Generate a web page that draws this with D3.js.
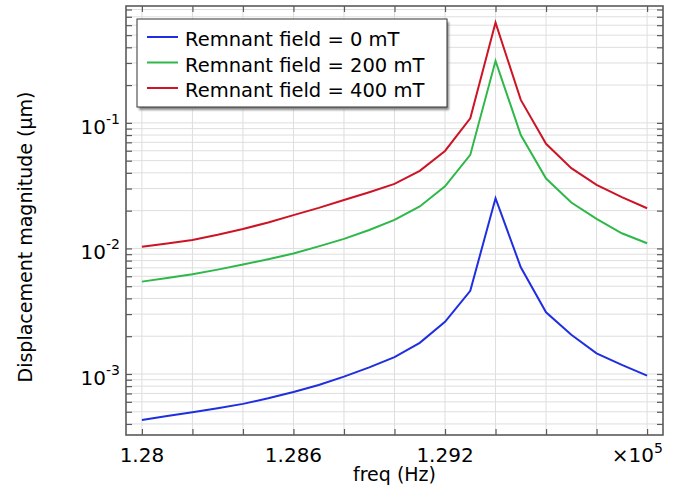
<!DOCTYPE html>
<html>
<head>
<meta charset="utf-8">
<script src="https://cdn.jsdelivr.net/npm/d3@7"></script>
<style>
  body { margin: 0; background: #fff; }
  svg { display: block; font-family: "DejaVu Sans", sans-serif; }
</style>
</head>
<body>
<svg id="chart" width="692" height="491"></svg>
<script>
// frequencies (Hz)
const freqs = [128000, 128100, 128200, 128300, 128400, 128500, 128600, 128700, 128800, 128900,
    129000, 129100, 129200, 129300, 129400, 129500, 129600, 129700, 129800, 129900, 130000];

// displacement magnitude (um)
const field0 = [4.30e-4, 4.62e-4, 4.95e-4, 5.33e-4, 5.78e-4, 6.40e-4, 7.19e-4, 8.17e-4, 9.53e-4, 1.13e-3,
    1.36e-3, 1.77e-3, 2.60e-3, 4.60e-3, 2.51e-2, 7.08e-3, 3.10e-3, 2.05e-3, 1.46e-3, 1.18e-3, 9.7e-4];
const field200 = [5.44e-3, 5.81e-3, 6.22e-3, 6.78e-3, 7.45e-3, 8.20e-3, 9.12e-3, 1.038e-2, 1.191e-2, 1.403e-2,
    1.686e-2, 2.16e-2, 3.12e-2, 5.56e-2, 0.312, 8.01e-2, 3.60e-2, 2.32e-2, 1.717e-2, 1.32e-2, 1.10e-2];
const field400 = [1.033e-2, 1.096e-2, 1.169e-2, 1.285e-2, 1.429e-2, 1.611e-2, 1.841e-2, 2.104e-2, 2.432e-2, 2.805e-2,
    3.266e-2, 4.15e-2, 5.98e-2, 0.1089, 0.629, 0.1525, 0.0681, 0.0436, 0.0321, 0.0256, 0.0209];

const seriesNames = ["Remnant field = 0 mT", "Remnant field = 200 mT", "Remnant field = 400 mT"];
const seriesColors = ["#1f2fe0", "#2fb84a", "#cc1426"];

const xTicks = [128000, 128200, 128400, 128600, 128800, 129000, 129200, 129400, 129600, 129800, 130000];
const xTickLabels = ["1.28", "", "", "1.286", "", "", "1.292", "", "", "", ""];
const yMajor = [1e-3, 1e-2, 1e-1];
const yMajorExp = ["-3", "-2", "-1"];

const svg = d3.select("#chart");
const pLeft = 126, pRight = 663, pTop = 6, pBottom = 435;

const x = d3.scaleLinear().domain([127937, 130063]).range([pLeft, pRight]);
const y = d3.scaleLog().domain([Math.pow(10, -3.486), Math.pow(10, -0.069)]).range([pBottom, pTop]);
const yTicks = y.ticks();

const gridColor = "#dedede";
const axisColor = "#5a5a5a";

// grid
svg.append("g").selectAll("line")
    .data(xTicks)
    .join("line")
    .attr("x1", d => x(d)).attr("x2", d => x(d))
    .attr("y1", pTop).attr("y2", pBottom)
    .attr("stroke", gridColor).attr("stroke-width", 1);
svg.append("g").selectAll("line")
    .data(yTicks)
    .join("line")
    .attr("x1", pLeft).attr("x2", pRight)
    .attr("y1", d => y(d)).attr("y2", d => y(d))
    .attr("stroke", gridColor).attr("stroke-width", 1);

// axes, ticks pointing inside
function styleAxis(g) {
    g.select(".domain").remove();
    g.selectAll(".tick line").attr("stroke", axisColor).attr("stroke-width", 1.2);
    g.selectAll(".tick text").remove();
}
svg.append("g").attr("transform", `translate(0,${pBottom})`)
    .call(d3.axisBottom(x).tickValues(xTicks).tickSize(-6)).call(styleAxis);
svg.append("g").attr("transform", `translate(0,${pTop})`)
    .call(d3.axisTop(x).tickValues(xTicks).tickSize(-6)).call(styleAxis);
svg.append("g").attr("transform", `translate(${pLeft},0)`)
    .call(d3.axisLeft(y).tickValues(yTicks).tickSize(-6)).call(styleAxis);
svg.append("g").attr("transform", `translate(${pRight},0)`)
    .call(d3.axisRight(y).tickValues(yTicks).tickSize(-6)).call(styleAxis);

// frame
svg.append("rect")
    .attr("x", pLeft).attr("y", pTop)
    .attr("width", pRight - pLeft).attr("height", pBottom - pTop)
    .attr("fill", "none").attr("stroke", axisColor).attr("stroke-width", 1.6);

// lines
const line = d3.line()
    .x((d, i) => x(freqs[i]))
    .y(d => y(d));
[field0, field200, field400].forEach((s, k) => {
    svg.append("path")
        .datum(s)
        .attr("d", line)
        .attr("fill", "none")
        .attr("stroke", seriesColors[k])
        .attr("stroke-width", 2)
        .attr("stroke-linejoin", "miter");
});

// x tick labels
svg.append("g").selectAll("text")
    .data(xTicks.filter((d, i) => xTickLabels[i] !== ""))
    .join("text")
    .attr("x", d => x(d))
    .attr("y", 462)
    .attr("text-anchor", "middle")
    .attr("font-size", 20)
    .attr("fill", "#000")
    .text(d => xTickLabels[xTicks.indexOf(d)]);

const mult = svg.append("text")
    .attr("x", pRight).attr("y", 462)
    .attr("text-anchor", "end")
    .attr("font-size", 20);
mult.append("tspan").text("×10");
mult.append("tspan").attr("dy", -9).attr("font-size", 14).text("5");

// y tick labels
yMajor.forEach((v, i) => {
    const t = svg.append("text")
        .attr("x", 120).attr("y", y(v) + 11)
        .attr("text-anchor", "end")
        .attr("font-size", 20);
    t.append("tspan").text("10");
    t.append("tspan").attr("dy", -10).attr("font-size", 14).text(yMajorExp[i]);
});

// axis titles
svg.append("text")
    .attr("x", (pLeft + pRight) / 2).attr("y", 481)
    .attr("text-anchor", "middle")
    .attr("font-size", 19)
    .text("freq (Hz)");
svg.append("text")
    .attr("transform", "translate(32,237) rotate(-90)")
    .attr("text-anchor", "middle")
    .attr("font-size", 19)
    .text("Displacement magnitude (µm)");

// legend
const defs = svg.append("defs");
defs.append("filter").attr("id", "blur")
    .append("feGaussianBlur").attr("stdDeviation", 1.2);
const lg = svg.append("g").attr("transform", "translate(137,19)");
lg.append("rect")
    .attr("x", 2).attr("y", 3).attr("width", 310).attr("height", 88)
    .attr("fill", "#888").attr("filter", "url(#blur)");
lg.append("rect")
    .attr("width", 310).attr("height", 88)
    .attr("fill", "#fff").attr("stroke", "#333").attr("stroke-width", 1);
seriesNames.forEach((name, k) => {
    const yy = 27 + k * 25.5;
    lg.append("line")
        .attr("x1", 10).attr("x2", 41)
        .attr("y1", yy - 9).attr("y2", yy - 9)
        .attr("stroke", seriesColors[k]).attr("stroke-width", 2);
    lg.append("text")
        .attr("x", 48).attr("y", yy)
        .attr("font-size", 19.5)
        .text(name);
});
</script>
</body>
</html>
